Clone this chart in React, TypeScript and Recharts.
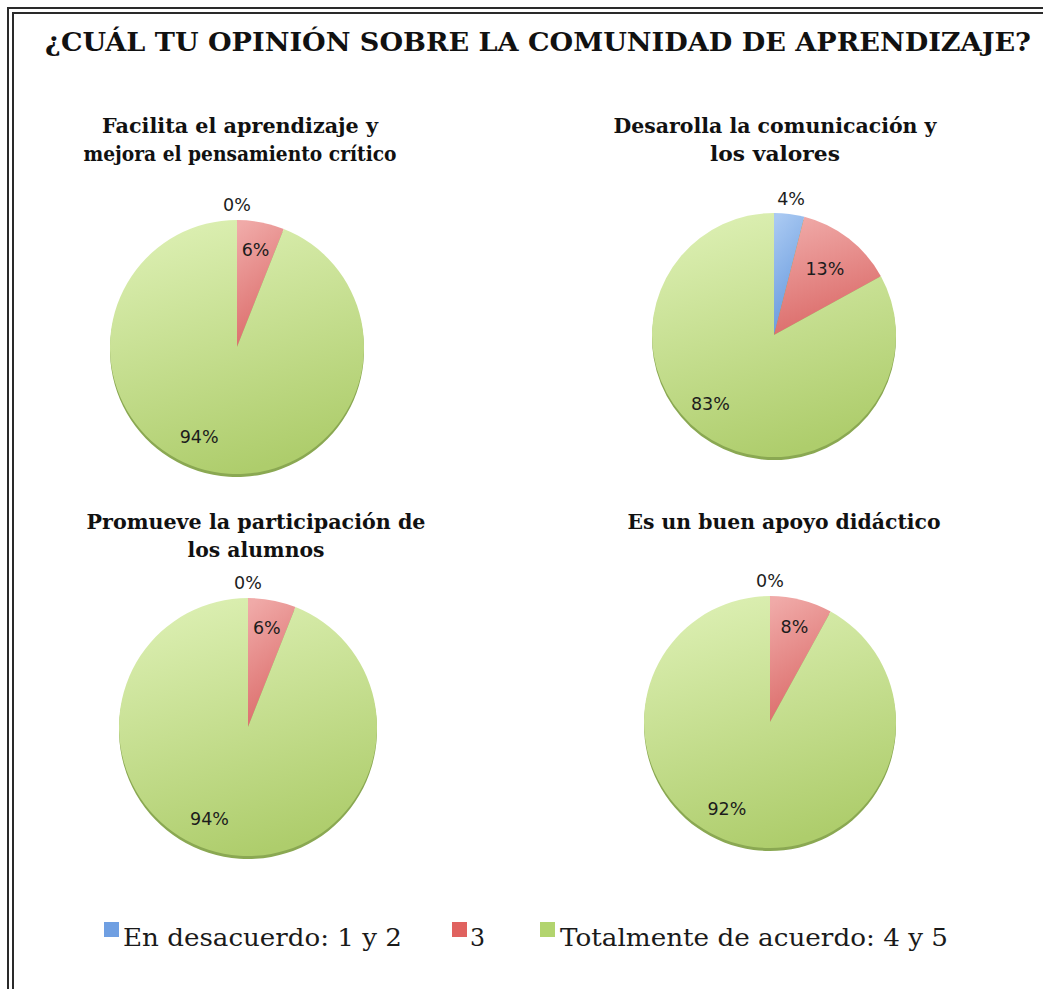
import React from 'react';
import { PieChart, Pie, Cell } from 'recharts';

const categories = ['En desacuerdo: 1 y 2', '3', 'Totalmente de acuerdo: 4 y 5'];
const facilitaValues = [0, 6, 94];
const desarrollaValues = [4, 13, 83];
const promueveValues = [0, 6, 94];
const apoyoValues = [0, 8, 92];

const mainTitle = '¿CUÁL TU OPINIÓN SOBRE LA COMUNIDAD DE APRENDIZAJE?';
const facilitaTitle = ['Facilita el aprendizaje y', 'mejora el pensamiento crítico'];
const desarrollaTitle = ['Desarolla la comunicación y', 'los valores'];
const promueveTitle = ['Promueve la participación de', 'los alumnos'];
const apoyoTitle = ['Es un buen apoyo didáctico'];

const gradients = [
  { top: '#a9c9f2', bottom: '#6396dc' },
  { top: '#f0aaa8', bottom: '#da6866' },
  { top: '#ddf0b4', bottom: '#aecd6c' },
];
const legendColors = ['#6f9fe2', '#e0625f', '#b2d46e'];

const RAD = Math.PI / 180;
const SIZE = 320;

const renderLabel = (props: any) => {
  const { cx, cy, midAngle, outerRadius, value } = props;
  let k = 0.77;
  let shift = 0;
  if (value < 5) k = 1.12;
  else if (value < 10) k = 0.78;
  else if (value < 50) k = 0.68;
  else shift = -12;
  const a = (midAngle + shift) * RAD;
  const x = cx + outerRadius * k * Math.cos(-a);
  const y = cy + outerRadius * k * Math.sin(-a);
  return (
    <text
      x={x}
      y={y}
      textAnchor="middle"
      dominantBaseline="central"
      fill="#1c1c1c"
      style={{ fontFamily: '"DejaVu Sans", sans-serif', fontSize: 17.5 }}
    >
      {`${value}%`}
    </text>
  );
};

interface SmallPieProps {
  id: string;
  values: number[];
  centerX: number;
  centerY: number;
  radius: number;
}

const SmallPie: React.FC<SmallPieProps> = ({ id, values, centerX, centerY, radius }) => {
  const data = categories.map((name, i) => ({ name, value: values[i] }));
  const c = SIZE / 2;
  return (
    <div style={{ position: 'absolute', left: centerX - c, top: centerY - c }}>
      <PieChart width={SIZE} height={SIZE} margin={{ top: 0, right: 0, bottom: 0, left: 0 }}>
        <defs>
          {gradients.map((g, i) => (
            <linearGradient key={i} id={`${id}-g${i}`} x1="0.2" y1="0" x2="0.5" y2="1">
              <stop offset="0%" stopColor={g.top} />
              <stop offset="100%" stopColor={g.bottom} />
            </linearGradient>
          ))}
        </defs>
        {/* darker rim under the pie, gives the slight 3d edge */}
        <Pie
          data={data}
          dataKey="value"
          cx={c}
          cy={c + 3}
          outerRadius={radius}
          startAngle={90}
          endAngle={-270}
          fill="#8aa852"
          stroke="none"
          legendType="none"
          isAnimationActive={false}
        />
        <Pie
          data={data}
          dataKey="value"
          nameKey="name"
          cx={c}
          cy={c}
          outerRadius={radius}
          startAngle={90}
          endAngle={-270}
          stroke="none"
          label={renderLabel}
          labelLine={false}
          isAnimationActive={false}
        >
          {data.map((d, i) => (
            <Cell key={d.name} fill={`url(#${id}-g${i})`} />
          ))}
        </Pie>
      </PieChart>
    </div>
  );
};

const serif = '"DejaVu Serif", "Liberation Serif", serif';

const SubTitle = ({ lines, x, y, widths }: { lines: string[]; x: number; y: number; widths: number[] }) => (
  <>
    {lines.map((l, i) => (
      <text
        key={l}
        x={x}
        y={y + i * 28}
        textAnchor="middle"
        textLength={widths[i]}
        lengthAdjust="spacingAndGlyphs"
        style={{ fontFamily: serif, fontWeight: 'bold', fontSize: 21 }}
        fill="#111"
      >
        {l}
      </text>
    ))}
  </>
);

export default function App() {
  return (
    <div
      style={{
        position: 'absolute',
        left: 0,
        top: 0,
        width: 1043,
        height: 989,
        background: '#fff',
        overflow: 'hidden',
      }}
    >
      {/* double frame, only left and top visible in the crop */}
      <div
        style={{
          position: 'absolute',
          left: 7,
          top: 7,
          width: 1100,
          height: 1100,
          borderLeft: '2px solid #2a2a2a',
          borderTop: '2px solid #2a2a2a',
        }}
      />
      <div
        style={{
          position: 'absolute',
          left: 12,
          top: 12,
          width: 1100,
          height: 1100,
          borderLeft: '2px solid #2a2a2a',
          borderTop: '2px solid #2a2a2a',
        }}
      />

      <SmallPie id="p1" values={facilitaValues} centerX={237} centerY={347} radius={127} />
      <SmallPie id="p2" values={desarrollaValues} centerX={774} centerY={335} radius={122} />
      <SmallPie id="p3" values={promueveValues} centerX={248} centerY={727} radius={129} />
      <SmallPie id="p4" values={apoyoValues} centerX={770} centerY={722} radius={126} />

      <svg width={1043} height={989} style={{ position: 'absolute', left: 0, top: 0, pointerEvents: 'none' }}>
        <text
          x={538}
          y={51}
          textAnchor="middle"
          textLength={986}
          lengthAdjust="spacingAndGlyphs"
          style={{ fontFamily: serif, fontWeight: 'bold', fontSize: 26.5 }}
          fill="#111"
        >
          {mainTitle}
        </text>

        <SubTitle lines={facilitaTitle} x={240} y={133} widths={[276, 313]} />
        <SubTitle lines={desarrollaTitle} x={775} y={133} widths={[323, 130]} />
        <SubTitle lines={promueveTitle} x={256} y={529} widths={[339, 137]} />
        <SubTitle lines={apoyoTitle} x={784} y={529} widths={[313]} />

        {/* legend */}
        {[
          { sx: 104, tx: 123, w: 279 },
          { sx: 452, tx: 470, w: 15 },
          { sx: 540, tx: 560, w: 388 },
        ].map((p, i) => (
          <g key={categories[i]}>
            <rect x={p.sx} y={922} width={15} height={15} fill={legendColors[i]} />
            <text
              x={p.tx}
              y={946}
              textLength={p.w}
              lengthAdjust="spacingAndGlyphs"
              style={{ fontFamily: serif, fontSize: 25 }}
              fill="#1a1a1a"
            >
              {categories[i]}
            </text>
          </g>
        ))}
      </svg>
    </div>
  );
}
